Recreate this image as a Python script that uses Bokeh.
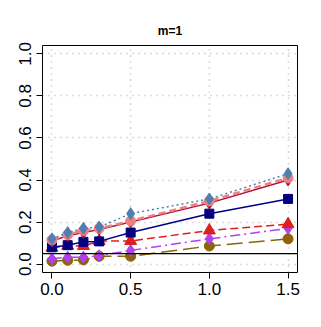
from bokeh.plotting import figure
from bokeh.models import Span, FixedTicker, Range1d
from bokeh.embed import file_html
from bokeh.resources import INLINE

x = [0.0, 0.1, 0.2, 0.3, 0.5, 1.0, 1.5]
s_steel = [0.12, 0.15, 0.17, 0.176, 0.24, 0.31, 0.43]
s_pink = [0.115, 0.14, 0.16, 0.17, 0.205, 0.30, 0.41]
s_crimson = [0.11, 0.135, 0.15, 0.165, 0.20, 0.29, 0.40]
s_navy = [0.08, 0.09, 0.106, 0.108, 0.15, 0.24, 0.31]
s_red = [0.078, 0.087, 0.086, 0.11, 0.11, 0.16, 0.19]
s_purple = [0.025, 0.033, 0.033, 0.04, 0.065, 0.12, 0.17]
s_brown = [0.014, 0.018, 0.02, 0.037, 0.037, 0.086, 0.12]
hline = 0.05
xticks = [0.0, 0.5, 1.0, 1.5]
yticks = [0.0, 0.2, 0.4, 0.6, 0.8, 1.0]

FONT = "Liberation Sans"

p = figure(frame_width=255, frame_height=227, output_backend="svg", toolbar_location=None,
           x_range=Range1d(-0.06, 1.56), y_range=Range1d(-0.04, 1.04),
           min_border_left=42, min_border_right=10, min_border_top=45, min_border_bottom=34,
           title="m=1")
p.title.align = "center"
p.title.text_font = FONT
p.title.text_font_size = "12px"
p.title.text_font_style = "bold"
p.title.text_color = "black"
p.title.offset = 0
p.title.standoff = 16

p.outline_line_color = "black"
p.outline_line_width = 1
p.background_fill_color = "white"
p.border_fill_color = "white"

for ax in (p.xaxis[0], p.yaxis[0]):
    ax.axis_line_color = None
    ax.major_tick_line_color = "black"
    ax.major_tick_out = 6
    ax.major_tick_in = 0
    ax.minor_tick_line_color = None
    ax.major_label_text_font = FONT
    ax.major_label_text_font_size = "17px"
    ax.major_label_text_color = "black"
p.xaxis[0].ticker = FixedTicker(ticks=xticks)
p.yaxis[0].ticker = FixedTicker(ticks=yticks)
p.xaxis[0].major_label_overrides = {v: f"{v:.1f}" for v in xticks}
p.yaxis[0].major_label_overrides = {v: f"{v:.1f}" for v in yticks}
p.yaxis[0].major_label_orientation = "vertical"
p.xaxis[0].major_label_standoff = 4
p.yaxis[0].major_label_standoff = 5

for g in (p.xgrid[0], p.ygrid[0]):
    g.grid_line_color = "#b8b8b8"
    g.grid_line_dash = "1 5"
    g.grid_line_width = 1.5
p.xgrid[0].ticker = FixedTicker(ticks=xticks)
p.ygrid[0].ticker = FixedTicker(ticks=yticks)

p.add_layout(Span(location=hline, dimension="width", line_color="black", line_width=1.2))

series = [
    (s_brown, "#8B6508", "16 6", "circle", 10),
    (s_purple, "#B040F0", "10 4 2 4", "diamond", 12),
    (s_red, "#DD1F1F", "8 4", "triangle", 12),
    (s_navy, "#000080", "solid", "square", 9),
    (s_crimson, "#B0103A", "solid", "diamond", 12),
    (s_pink, "#F08080", "7 4", "circle", 10),
    (s_steel, "#4F7FB0", "2 3", "diamond", 12),
]
for ys, col, dash, mk, sz in series:
    lw = 2.5 if col == "#F08080" else 1.5
    p.line(x, ys, line_color=col, line_dash=dash, line_width=lw)
    p.scatter(x, ys, marker=mk, size=sz, fill_color=col, line_color=col)

open("out.html", "w").write(file_html(p, INLINE))
